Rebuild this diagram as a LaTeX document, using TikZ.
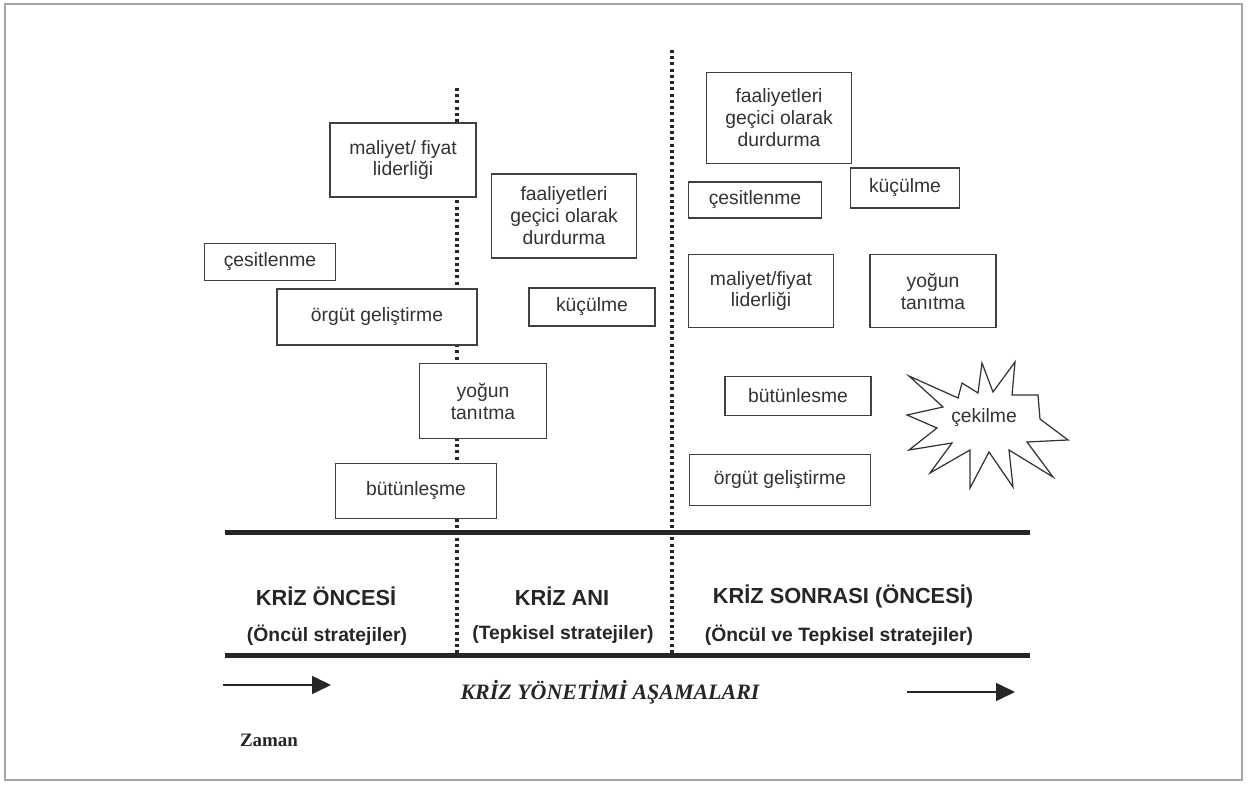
\documentclass[tikz,border=0pt]{standalone}
\usepackage{fontspec}
\setmainfont{Liberation Serif}
\setsansfont{Liberation Sans}
\usetikzlibrary{arrows.meta}

\begin{document}
\begin{tikzpicture}[x=0.02cm,y=-0.02cm,
    box/.style={rectangle,draw=black!75,fill=white,line width=0.8pt,
      font=\sffamily\fontsize{11}{12.5}\selectfont,text=black!80,
      align=center,inner sep=0pt},
    phase/.style={font=\sffamily\bfseries\fontsize{12.4}{14}\selectfont,text=black!85},
    sub/.style={font=\sffamily\bfseries\fontsize{11}{13}\selectfont,text=black!85},
    sep/.style={line width=0.07cm,black!85,dash pattern=on 0.06cm off 0.065cm},
    bar/.style={line width=0.1cm,black!85},
    timearrow/.style={line width=0.9pt,black!85,
      -{Triangle[length=0.38cm,width=0.36cm]}}]

  \useasboundingbox (0,0) rectangle (1248,786);
  \draw[gray!70,line width=1.2pt] (5,4) rectangle (1242,780);

  % phase borders
  \coordinate (s1top) at (457,88);
  \coordinate (s1bot) at (457,658);
  \coordinate (s2top) at (672,50);
  \coordinate (s2bot) at (672,656);
  \draw[sep] (s1top) -- (s1bot);
  \draw[sep] (s2top) -- (s2bot);

  % before the crisis
  \node[box,minimum width=2.92cm,minimum height=1.48cm] (Cost) at (403,160) {maliyet/ fiyat\\liderliği};
  \node[box,minimum width=2.62cm,minimum height=0.74cm] (Diver) at (270,262) {çesitlenme};
  \node[box,minimum width=4.0cm,minimum height=1.12cm] (Org) at (377,317) {örgüt geliştirme};
  \node[box,minimum width=2.54cm,minimum height=1.5cm] (Promo) at (483,401) {yoğun\\tanıtma};
  \node[box,minimum width=3.22cm,minimum height=1.1cm] (Integ) at (416,491) {bütünleşme};

  % during the crisis
  \node[box,minimum width=2.9cm,minimum height=1.68cm] (Stop) at (564,216) {faaliyetleri\\geçici olarak\\durdurma};
  \node[box,minimum width=2.52cm,minimum height=0.76cm] (Shrink) at (592,307) {küçülme};

  % after the crisis
  \node[box,minimum width=2.9cm,minimum height=1.82cm] (Stop') at (779,118) {faaliyetleri\\geçici olarak\\durdurma};
  \node[box,minimum width=2.66cm,minimum height=0.72cm] (Diver') at (755,200) {çesitlenme};
  \node[box,minimum width=2.18cm,minimum height=0.8cm] (Shrink') at (905,188) {küçülme};
  \node[box,minimum width=2.9cm,minimum height=1.46cm] (Cost') at (761,291) {maliyet/fiyat\\liderliği};
  \node[box,minimum width=2.52cm,minimum height=1.46cm] (Promo') at (933,291) {yoğun\\tanıtma};
  \node[box,minimum width=2.92cm,minimum height=0.78cm] (Integ') at (798,396) {bütünlesme};
  \node[box,minimum width=3.62cm,minimum height=1.02cm] (Org') at (780,480) {örgüt geliştirme};

  % withdrawal
  \draw[black!80,line width=0.7pt,fill=white]
    (909,376) -- (958,398) -- (962,383) -- (978,393) -- (982,363) -- (993,392)
    -- (1015,362) -- (1012,395) -- (1038,395) -- (1040,419) -- (1068,440)
    -- (1027,442) -- (1053,477) -- (1009,450) -- (1013,487) -- (989,452)
    -- (970,488) -- (970,450) -- (930,473) -- (952,443) -- (909,450)
    -- (937,428) -- (907,415) -- (943,407) -- cycle;
  \node[font=\sffamily\fontsize{11}{12.5}\selectfont,text=black!80] (Quit) at (984,418) {çekilme};

  % phases
  \coordinate (b1l) at (225,533);
  \coordinate (b1r) at (1030,533);
  \coordinate (b2l) at (225,656);
  \coordinate (b2r) at (1030,656);
  \draw[bar] (b1l) -- (b1r);
  \draw[bar] (b2l) -- (b2r);

  \node[phase] (Pre) at (326,596) {KRİZ ÖNCESİ};
  \node[sub] (PreS) at (327,635) {(Öncül stratejiler)};
  \node[phase] (In) at (562,596) {KRİZ ANI};
  \node[sub] (InS) at (563,635) {(Tepkisel stratejiler)};
  \node[phase] (Post) at (843,596) {KRİZ SONRASI (ÖNCESİ)};
  \node[sub] (PostS) at (839,635) {(Öncül ve Tepkisel stratejiler)};

  % time
  \coordinate (t1) at (223,685);
  \coordinate (t2) at (331,685);
  \coordinate (t3) at (907,692);
  \coordinate (t4) at (1015,692);
  \draw[timearrow] (t1) -- (t2);
  \draw[timearrow] (t3) -- (t4);
  \node[font=\rmfamily\bfseries\itshape\fontsize{12.5}{14}\selectfont,text=black!85] (Stages) at (610,692) {KRİZ YÖNETİMİ AŞAMALARI};
  \node[font=\rmfamily\bfseries\fontsize{10.8}{12}\selectfont,text=black!85] (Time) at (269,740) {Zaman};
\end{tikzpicture}
\end{document}
